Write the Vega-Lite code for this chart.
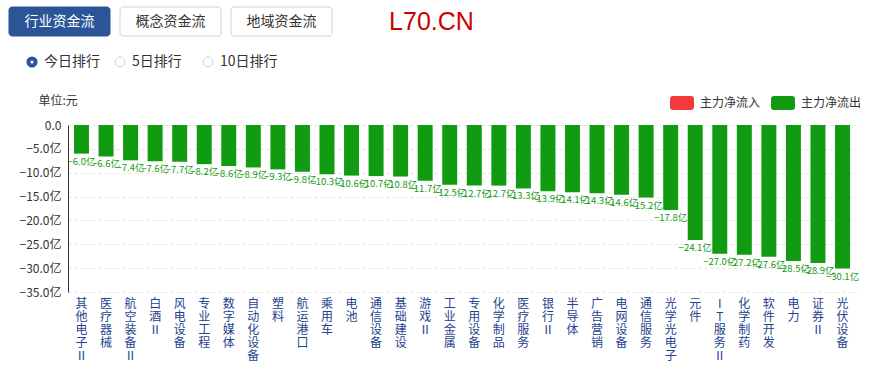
{
  "$schema": "https://vega.github.io/schema/vega-lite/v6.json",
  "background": "#ffffff",
  "padding": {"left": 8, "top": 6, "right": 20, "bottom": 0},
  "spacing": 13,
  "resolve": {"legend": {"color": "independent"}},
  "config": {
    "view": {"stroke": null},
    "font": "Noto Sans CJK SC"
  },
  "vconcat": [
    {
      "width": 400,
      "height": 29,
      "data": {"values": [
        {"name": "行业资金流", "active": true},
        {"name": "概念资金流", "active": false},
        {"name": "地域资金流", "active": false}
      ]},
      "layer": [
        {
          "mark": {"type": "rect", "cornerRadius": 3, "strokeWidth": 1},
          "encoding": {
            "x": {"field": "name", "type": "nominal", "axis": null,
                  "scale": {"domain": ["行业资金流", "概念资金流", "地域资金流", "L70.CN"], "range": [-59, 375], "paddingInner": 0.09, "paddingOuter": 0}},
            "fill": {"condition": {"test": "datum.active", "value": "#2b5597"}, "value": "#ffffff"},
            "stroke": {"condition": {"test": "datum.active", "value": "#2b5597"}, "value": "#cdd3da"}
          }
        },
        {
          "mark": {"type": "text", "fontSize": 14, "baseline": "middle"},
          "encoding": {
            "x": {"field": "name", "type": "nominal"},
            "text": {"field": "name"},
            "color": {"condition": {"test": "datum.active", "value": "#ffffff"}, "value": "#333333"}
          }
        },
        {
          "data": {"values": [{"name": "L70.CN"}]},
          "mark": {"type": "text", "font": "Liberation Sans", "fontSize": 25, "color": "#cc0000", "dx": 39, "baseline": "middle"},
          "encoding": {
            "x": {"field": "name", "type": "nominal"},
            "text": {"field": "name"}
          }
        }
      ]
    },
    {
      "width": 300,
      "height": 24,
      "data": {"values": [
        {"name": "今日排行", "sel": true},
        {"name": "5日排行", "sel": false},
        {"name": "10日排行", "sel": false}
      ]},
      "layer": [
        {
          "mark": {"type": "point", "shape": "circle", "filled": true, "fill": "#ffffff", "opacity": 1},
          "encoding": {
            "x": {"field": "name", "type": "nominal", "axis": null, "sort": null,
                  "scale": {"type": "point", "range": [-36, 140], "padding": 0}},
            "stroke": {"condition": {"test": "datum.sel", "value": "#2b5597"}, "value": "#cfd4da"},
            "strokeWidth": {"condition": {"test": "datum.sel", "value": 4}, "value": 1},
            "size": {"condition": {"test": "datum.sel", "value": 50}, "value": 95}
          }
        },
        {
          "mark": {"type": "text", "align": "left", "dx": 12, "fontSize": 14, "color": "#333333", "baseline": "middle"},
          "encoding": {
            "x": {"field": "name", "type": "nominal", "sort": null},
            "text": {"field": "name"}
          }
        }
      ]
    },
    {
      "width": 788,
      "height": 167,
      "data": {"values": [
        {"sector": "其他电子Ⅱ", "value": -6.0, "flow": "主力净流出"},
        {"sector": "医疗器械", "value": -6.6, "flow": "主力净流出"},
        {"sector": "航空装备Ⅱ", "value": -7.4, "flow": "主力净流出"},
        {"sector": "白酒Ⅱ", "value": -7.6, "flow": "主力净流出"},
        {"sector": "风电设备", "value": -7.7, "flow": "主力净流出"},
        {"sector": "专业工程", "value": -8.2, "flow": "主力净流出"},
        {"sector": "数字媒体", "value": -8.6, "flow": "主力净流出"},
        {"sector": "自动化设备", "value": -8.9, "flow": "主力净流出"},
        {"sector": "塑料", "value": -9.3, "flow": "主力净流出"},
        {"sector": "航运港口", "value": -9.8, "flow": "主力净流出"},
        {"sector": "乘用车", "value": -10.3, "flow": "主力净流出"},
        {"sector": "电池", "value": -10.6, "flow": "主力净流出"},
        {"sector": "通信设备", "value": -10.7, "flow": "主力净流出"},
        {"sector": "基础建设", "value": -10.8, "flow": "主力净流出"},
        {"sector": "游戏Ⅱ", "value": -11.7, "flow": "主力净流出"},
        {"sector": "工业金属", "value": -12.5, "flow": "主力净流出"},
        {"sector": "专用设备", "value": -12.7, "flow": "主力净流出"},
        {"sector": "化学制品", "value": -12.7, "flow": "主力净流出"},
        {"sector": "医疗服务", "value": -13.3, "flow": "主力净流出"},
        {"sector": "银行Ⅱ", "value": -13.9, "flow": "主力净流出"},
        {"sector": "半导体", "value": -14.1, "flow": "主力净流出"},
        {"sector": "广告营销", "value": -14.3, "flow": "主力净流出"},
        {"sector": "电网设备", "value": -14.6, "flow": "主力净流出"},
        {"sector": "通信服务", "value": -15.2, "flow": "主力净流出"},
        {"sector": "光学光电子", "value": -17.8, "flow": "主力净流出"},
        {"sector": "元件", "value": -24.1, "flow": "主力净流出"},
        {"sector": "IT服务Ⅱ", "value": -27.0, "flow": "主力净流出"},
        {"sector": "化学制药", "value": -27.2, "flow": "主力净流出"},
        {"sector": "软件开发", "value": -27.6, "flow": "主力净流出"},
        {"sector": "电力", "value": -28.5, "flow": "主力净流出"},
        {"sector": "证券Ⅱ", "value": -28.9, "flow": "主力净流出"},
        {"sector": "光伏设备", "value": -30.1, "flow": "主力净流出"}
      ]},
      "transform": [{"calculate": "format(datum.value, '.1f') + '亿'", "as": "label"}],
      "encoding": {
        "x": {"field": "sector", "type": "nominal", "sort": null,
              "scale": {"paddingInner": 0.39, "paddingOuter": 0.244},
              "axis": {"title": null, "domain": false, "ticks": false, "labelAngle": 0,
                       "labelExpr": "split(datum.label, '')", "labelBaseline": "top",
                       "labelPadding": 6, "labelFontSize": 12, "labelLineHeight": 13,
                       "labelColor": "#24428f", "labelOverlap": false, "labelBound": false, "labelLimit": 0}},
        "y": {"field": "value", "type": "quantitative",
              "scale": {"domain": [-35, 0], "nice": false, "zero": false},
              "axis": {"values": [0, -5, -10, -15, -20, -25, -30, -35],
                       "labelExpr": "datum.value == 0 ? '0.0' : format(datum.value, '.1f') + '亿'",
                       "title": "单位:元", "titleAngle": 0, "titleX": -30, "titleY": -25,
                       "titleAlign": "left", "titleBaseline": "middle", "titleFontSize": 12,
                       "titleFontWeight": "normal", "titleColor": "#333333",
                       "grid": true, "gridDash": [3, 3], "gridColor": "#e3e3e3",
                       "domainColor": "#333333", "ticks": false, "labelPadding": 7,
                       "labelFontSize": 12, "labelColor": "#333333"}}
      },
      "layer": [
        {
          "mark": {"type": "bar"},
          "encoding": {
            "color": {"field": "flow", "type": "nominal",
                      "scale": {"domain": ["主力净流入", "主力净流出"], "range": ["#f23a3a", "#119b11"]},
                      "legend": {"orient": "none", "legendX": 598, "legendY": -38, "direction": "horizontal",
                                 "title": null,
                                 "symbolType": "M-0.75,-0.583H0.75Q1,-0.583,1,-0.333V0.333Q1,0.583,0.75,0.583H-0.75Q-1,0.583,-1,0.333V-0.333Q-1,-0.583,-0.75,-0.583Z",
                                 "symbolSize": 576, "symbolStrokeWidth": 0, "labelFontSize": 12,
                                 "labelColor": "#333333", "labelOffset": 6, "columnPadding": 10, "padding": 4}}
          }
        },
        {
          "mark": {"type": "text", "baseline": "top", "dy": 3, "fontSize": 9.5, "color": "#119b11"},
          "encoding": {"text": {"field": "label"}}
        },
        {
          "mark": {"type": "rule", "color": "#333333", "strokeWidth": 1},
          "encoding": {"y": {"datum": 0}}
        }
      ]
    }
  ]
}
